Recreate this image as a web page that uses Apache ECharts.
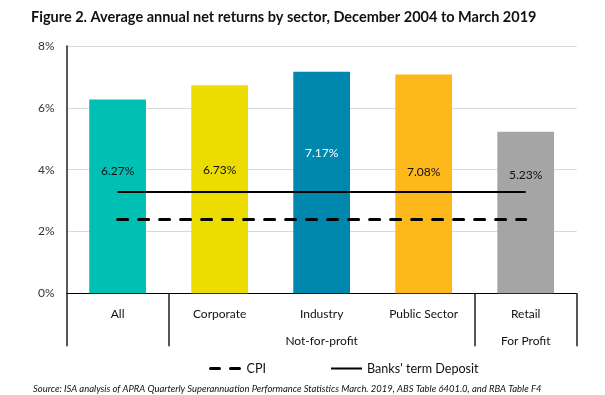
<!DOCTYPE html>
<html><head><meta charset="utf-8">
<script src="https://cdn.jsdelivr.net/npm/echarts@6/dist/echarts.min.js"></script>
<style>html,body{margin:0;padding:0;background:#fff}#c{width:605px;height:395px}</style>
</head><body><div id="c"></div>
<script>
const categories = ['All', 'Corporate', 'Industry', 'Public Sector', 'Retail'];
const groupLabels = ['', '', 'Not-for-profit', '', 'For Profit'];
const returns = [6.27, 6.73, 7.17, 7.08, 5.23];
const cpi = [2.39, 2.39, 2.39, 2.39, 2.39];
const bankDeposit = [3.28, 3.28, 3.28, 3.28, 3.28];
const yTicks = [0, 2, 4, 6, 8];

const barColors = ['#00bfb3', '#eddc00', '#0087ae', '#fdb81c', '#a5a5a5'];
const labelColors = ['#111', '#111', '#fff', '#111', '#111'];
const labelOffsets = [-25, -19, -29, -12, -37];
const FONT = 'Lato';

const chart = echarts.init(document.getElementById('c'), null, {renderer: 'canvas'});
chart.setOption({
  animation: false,
  textStyle: {fontFamily: FONT},
  title: [{
    text: 'Figure 2. Average annual net returns by sector, December 2004 to March 2019',
    left: 31, top: 10, padding: 0,
    textStyle: {fontFamily: FONT, fontWeight: 'bold', fontSize: 14.5, color: '#111'}
  }, {
    text: 'Source: ISA analysis of APRA Quarterly Superannuation Performance Statistics March. 2019, ABS Table 6401.0, and RBA Table F4',
    left: 33, top: 384, padding: 0,
    textStyle: {fontFamily: FONT, fontStyle: 'italic', fontWeight: 'normal', fontSize: 9.45, color: '#111'}
  }],
  grid: {left: 66.6, right: 28.3, top: 46, bottom: 101.7, containLabel: false},
  legend: {
    top: 357, left: 204, itemGap: 64, itemWidth: 31, itemHeight: 10,
    textStyle: {fontFamily: FONT, fontSize: 12.6, color: '#111'},
    itemStyle: {opacity: 0},
    data: [
      {name: 'CPI', lineStyle: {type: [9, 11], width: 3, cap: 'round'}},
      {name: "Banks' term Deposit"}
    ]
  },
  xAxis: {
    type: 'category',
    data: categories,
    axisLine: {show: true, lineStyle: {color: '#000', width: 1}},
    axisTick: {show: true, length: 53, lineStyle: {color: '#222', width: 1.5},
      interval: function (i) { return i === 0 || i === 1 || i === 4; }},
    axisLabel: {
      interval: 0, margin: 7, color: '#111', fontSize: 12, fontFamily: FONT, lineHeight: 27,
      formatter: function (v, i) { return groupLabels[i] ? v + '\n' + groupLabels[i] : v; }
    }
  },
  yAxis: {
    type: 'value', min: yTicks[0], max: yTicks[yTicks.length - 1], interval: 2,
    axisLine: {show: true, lineStyle: {color: '#222', width: 1.5}},
    axisTick: {show: false},
    axisLabel: {formatter: '{value}%', color: '#333', fontSize: 12, margin: 12, fontFamily: FONT},
    splitLine: {lineStyle: {color: '#d9d9d9', width: 1}}
  },
  series: [{
    type: 'bar',
    barWidth: '55.6%',
    data: returns.map((v, i) => ({
      value: v,
      itemStyle: {color: barColors[i]},
      label: {color: labelColors[i], offset: [0, labelOffsets[i]]}
    })),
    label: {show: true, position: 'inside', fontSize: 12, fontFamily: FONT,
      formatter: p => p.value.toFixed(2) + '%'}
  }, {
    name: "Banks' term Deposit",
    type: 'line', data: bankDeposit, symbol: 'none',
    lineStyle: {color: '#000', width: 2},
    itemStyle: {color: '#000'}
  }, {
    name: 'CPI',
    type: 'line', data: cpi, symbol: 'none',
    lineStyle: {color: '#000', width: 3, type: [10, 11], cap: 'round'},
    itemStyle: {color: '#000'}
  }]
});
</script></body></html>
